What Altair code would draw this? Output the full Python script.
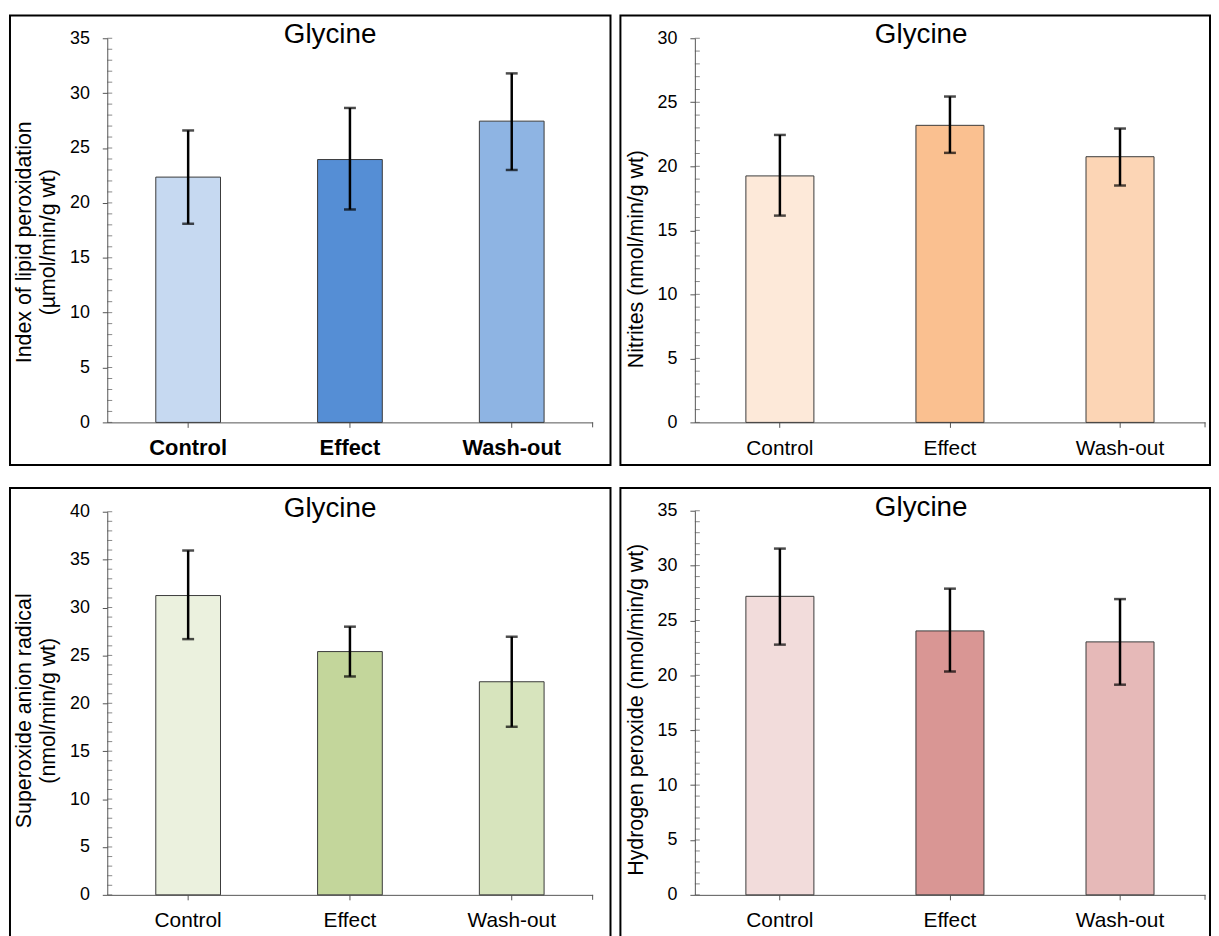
import altair as alt
import pandas as pd

FONT = "Liberation Sans"

categories = ["Control", "Effect", "Wash-out"]
panel_title = "Glycine"

# Panel 1: lipid peroxidation
lipid_mean = [22.35, 23.95, 27.45]
lipid_lo = [18.1, 19.4, 23.0]
lipid_hi = [26.6, 28.65, 31.8]
lipid_colors = ["#c6d9f1", "#558ed5", "#8eb4e3"]

# Panel 2: nitrites
nitr_mean = [19.25, 23.2, 20.75]
nitr_lo = [16.15, 21.05, 18.5]
nitr_hi = [22.45, 25.45, 22.95]
nitr_colors = ["#fde9d9", "#fac090", "#fcd5b5"]

# Panel 3: superoxide anion radical
sup_mean = [31.25, 25.4, 22.25]
sup_lo = [26.7, 22.8, 17.55]
sup_hi = [35.95, 28.0, 26.95]
sup_colors = ["#ebf1de", "#c3d69b", "#d7e4bd"]

# Panel 4: hydrogen peroxide
h2o2_mean = [27.2, 24.05, 23.05]
h2o2_lo = [22.8, 20.35, 19.15]
h2o2_hi = [31.55, 27.9, 26.95]
h2o2_colors = ["#f2dcdb", "#d99694", "#e6b9b8"]

AXIS_COLOR = "#555555"


def panel(mean, lo, hi, colors, ymax, ytitle, W, H, fl, fr, ft, fb,
          bold=False, title_dx=-20, title_y=None, title_pad=10):
    df = pd.DataFrame({"cat": categories, "mean": mean, "lo": lo, "hi": hi})
    minor = pd.DataFrame({"v": list(range(0, ymax + 1))})
    one = pd.DataFrame({"t": [panel_title]})

    xenc = alt.X(
        "cat:N", sort=categories,
        scale=alt.Scale(paddingInner=0.6, paddingOuter=0.3),
        axis=alt.Axis(
            title=None, labelAngle=0, labelFont=FONT,
            labelFontSize=22 if bold else 21,
            labelFontWeight="bold" if bold else "normal",
            labelColor="black", tickSize=5, tickColor=AXIS_COLOR,
            domainColor=AXIS_COLOR, labelPadding=10,
        ),
    )
    yaxis_kwargs = dict(
        values=list(range(0, ymax + 1, 5)), grid=False, tickSize=5,
        tickColor=AXIS_COLOR, domainColor=AXIS_COLOR,
        labelFont=FONT, labelFontSize=18, labelColor="black", labelPadding=13,
        title=ytitle, titleFont=FONT, titleFontSize=21.5,
        titleFontWeight="normal", titleColor="black",
        titlePadding=title_pad, titleLineHeight=24,
    )
    if title_y is not None:
        yaxis_kwargs["titleY"] = title_y
    yenc = alt.Y("mean:Q", scale=alt.Scale(domain=[0, ymax], nice=False),
                 axis=alt.Axis(**yaxis_kwargs))

    frame = alt.Chart(one).mark_rect(
        fillOpacity=0, stroke="black", strokeWidth=2
    ).encode(
        x=alt.value(fl), x2=alt.value(W + fr),
        y=alt.value(ft), y2=alt.value(H + fb),
    )

    end_tick = alt.Chart(one).mark_rule(color=AXIS_COLOR, strokeWidth=1).encode(
        x=alt.value(W), y=alt.value(H), y2=alt.value(H + 5)
    )

    title = alt.Chart(one).mark_text(
        font=FONT, fontSize=28, color="black", align="center",
        baseline="alphabetic",
    ).encode(text="t:N", x=alt.value(W / 2 + title_dx), y=alt.value(5))

    bars = alt.Chart(df).mark_bar(stroke="#3a3a3a", strokeWidth=1).encode(
        x=xenc, y=yenc,
        color=alt.Color("cat:N", scale=alt.Scale(domain=categories, range=colors),
                        legend=None),
    )

    minor_ticks = alt.Chart(minor).mark_tick(
        color=AXIS_COLOR, thickness=1, size=5
    ).encode(y=alt.Y("v:Q"), x=alt.value(2.5))

    err = alt.Chart(df).mark_rule(color="black", strokeWidth=2.5).encode(
        x=alt.X("cat:N", sort=categories), y="lo:Q", y2="hi:Q"
    )
    cap_lo = alt.Chart(df).mark_tick(color="black", thickness=2.5, size=12).encode(
        x=alt.X("cat:N", sort=categories), y="lo:Q"
    )
    cap_hi = alt.Chart(df).mark_tick(color="black", thickness=2.5, size=12).encode(
        x=alt.X("cat:N", sort=categories), y="hi:Q"
    )

    return alt.layer(frame, bars, minor_ticks, end_tick, err, cap_lo, cap_hi,
                     title).properties(width=W, height=H)


p1 = panel(lipid_mean, lipid_lo, lipid_hi, lipid_colors, 35,
           ["Index of lipid peroxidation", "(µmol/min/g wt)"],
           489, 387, -98, 18, -23, 43, bold=True, title_dx=-20, title_y=205)
p2 = panel(nitr_mean, nitr_lo, nitr_hi, nitr_colors, 30,
           "Nitrites (nmol/min/g wt)",
           514, 387, -75, 5, -23, 43, title_dx=-29, title_y=222)
p3 = panel(sup_mean, sup_lo, sup_hi, sup_colors, 40,
           ["Superoxide anion radical", "(nmol/min/g wt)"],
           489, 386, -98, 18, -24, 43, title_dx=-20, title_y=200)
p4 = panel(h2o2_mean, h2o2_lo, h2o2_hi, h2o2_colors, 35,
           "Hydrogen peroxide (nmol/min/g wt)",
           514, 387, -75, 5, -23, 43, title_dx=-29, title_y=200)

left = alt.vconcat(p1, p3, spacing=21).resolve_scale(color="independent")
right = alt.vconcat(p2, p4, spacing=21).resolve_scale(color="independent")
chart = alt.hconcat(left, right, spacing=8).resolve_scale(
    color="independent"
).properties(
    padding={"left": 1, "top": 3, "right": 0, "bottom": 0},
    background="white",
).configure_view(stroke=None)

chart.save("out.html", embed_options={"renderer": "svg", "actions": False})
